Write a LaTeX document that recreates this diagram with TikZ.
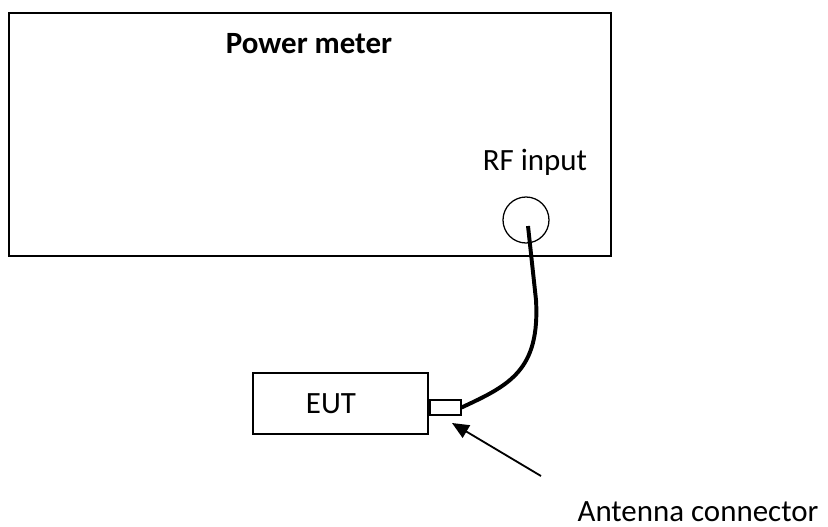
\documentclass[tikz,border=0pt]{standalone}
\usepackage{fontspec}
\setmainfont{Carlito}
\usepackage{tikz}
\usetikzlibrary{arrows.meta, positioning, calc}

\begin{document}
\begin{tikzpicture}[
        box/.style={draw,line width=1.4pt,inner sep=0pt},
        lbl/.style={font=\fontsize{22}{26}\selectfont,anchor=base,inner sep=0pt},
        cable/.style={line width=2.8pt},
        pointer/.style={line width=1.3pt,-{Triangle[length=0.42cm,width=0.36cm]}}
      ]
        \useasboundingbox (0,0) rectangle (20.7,13.15);

        % power meter
        \node[box,minimum width=15.05cm,minimum height=6.075cm,anchor=north west]
          (meter) at (0.2,12.85) {};
        \node[lbl,font=\fontsize{22}{26}\selectfont\bfseries] (title) at (7.725,11.825) {Power meter};
        \node[lbl] (rflbl) at (13.375,8.9) {RF input};
        \node[draw,circle,line width=0.9pt,minimum size=1.15cm,inner sep=0pt]
          (rf) at (13.15,7.65) {};

        % equipment under test
        \node[box,minimum width=4.375cm,minimum height=1.525cm,anchor=north west]
          (eut) at (6.3,3.85) {};
        \node[lbl] (eutlbl) at (8.275,2.825) {EUT};
        \node[box,line width=1.1pt,minimum width=0.775cm,minimum height=0.375cm,anchor=west]
          (conn) at (eut.east |- 0,2.9625) {};

        % cable
        \coordinate (drop) at (13.4,5.65);
        \draw[cable] ($(rf.center)+(0.05,-0.15)$) -- (drop)
          .. controls (13.5,3.9) and (12.75,3.525) .. (conn.east);

        % antenna connector
        \coordinate (tip) at (11.3,2.575);
        \coordinate (tail) at (13.525,1.25);
        \draw[pointer] (tail) -- (tip);
        \node[lbl] (antlbl) at (17.45,0.12) {Antenna connector};
      \end{tikzpicture}
\end{document}
